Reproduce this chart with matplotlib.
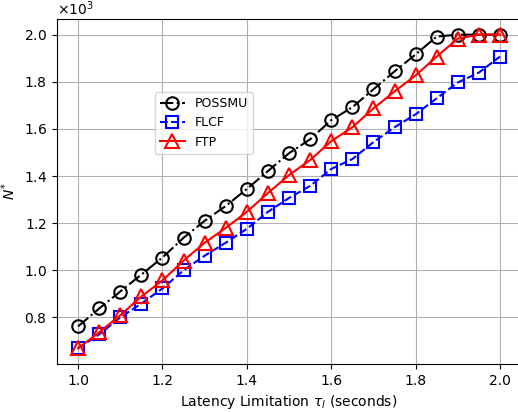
import numpy as np
import matplotlib
matplotlib.use('agg')
import matplotlib.pyplot as plt

# latency limitation (seconds)
latency = [1.00, 1.05, 1.10, 1.15, 1.20, 1.25, 1.30, 1.35, 1.40, 1.45, 1.50,
           1.55, 1.60, 1.65, 1.70, 1.75, 1.80, 1.85, 1.90, 1.95, 2.00]

possmu = [762, 838, 910, 982, 1054, 1138, 1210, 1273, 1345, 1421, 1497,
          1556, 1637, 1692, 1768, 1844, 1916, 1992, 2000, 2000, 2000]
flcf = [669, 728, 800, 859, 923, 1000, 1062, 1117, 1176, 1248, 1307,
        1358, 1430, 1472, 1544, 1607, 1662, 1730, 1797, 1839, 1907]
ftp = [669, 737, 809, 889, 957, 1041, 1117, 1180, 1248, 1328, 1404,
       1468, 1548, 1607, 1687, 1759, 1827, 1907, 1983, 2000, 2000]

fig = plt.figure(figsize=(5.18, 4.12), dpi=100)
ax = fig.add_axes([0.110, 0.1165, 0.896, 0.8375])

ax.plot(latency, possmu, '-.o', color='black', mfc='none', ms=9, mew=1.5,
        lw=1.5, label='POSSMU')
ax.plot(latency, flcf, '--s', color='blue', mfc='none', ms=9, mew=1.5,
        lw=1.5, label='FLCF')
ax.plot(latency, ftp, '-^', color='red', mfc='none', ms=10, mew=1.5,
        lw=1.5, label='FTP')

ax.grid(True, color='#b0b0b0', lw=0.8)
ax.ticklabel_format(axis='y', style='sci', scilimits=(3, 3), useMathText=True)
ax.set_xticks([1.0, 1.2, 1.4, 1.6, 1.8, 2.0])
ax.set_xlabel(r'Latency Limitation $\tau_l$ (seconds)')
ax.set_ylabel(r'$N^{*}$')
ax.legend(loc='upper left', bbox_to_anchor=(0.197, 0.806), fontsize=9)

fig.savefig('out.png', dpi=100)
